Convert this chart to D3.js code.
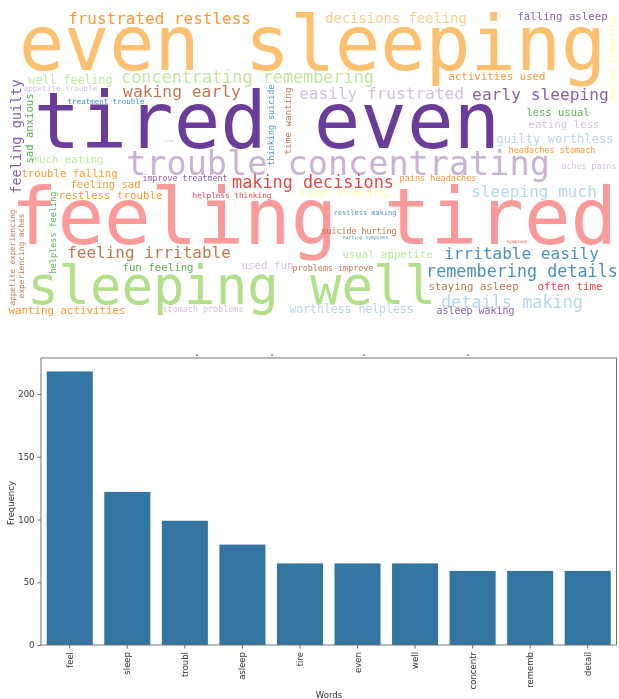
<!DOCTYPE html>
<html><head><meta charset="utf-8">
<script src="https://cdnjs.cloudflare.com/ajax/libs/d3/7.8.5/d3.min.js"></script>
<style>html,body{margin:0;padding:0;background:#fff}svg{display:block}</style></head>
<body><svg id="c" width="619" height="699"></svg>
<script>
// Word cloud content
const cloudWords = ["even sleeping","tired even","feeling tired","sleeping well","trouble concentrating","frustrated restless","decisions feeling","falling asleep","concentrating remembering","well feeling","waking early","easily frustrated","early sleeping","activities used","less usual","eating less","guilty worthless","headaches stomach","aches pains","feeling guilty","sad anxious","appetite trouble","treatment trouble","thinking suicide","time wanting","much eating","trouble falling","feeling sad","restless trouble","improve treatment","helpless thinking","making decisions","pains headaches","sleeping much","restless making","suicide hurting","hurting symptoms","symptoms","feeling irritable","irritable easily","usual appetite","fun feeling","used fun","problems improve","remembering details","staying asleep","often time","details making","worthless helpless","asleep waking","stomach problems","wanting activities","helpless feeling","experiencing aches","appetite experiencing","moving fidgeting","time staying","sleep"];
const cloudSizes = [74,76,76.4,51.5,33.2,15.8,13.7,10.6,16.7,11.5,16,15.9,16,10.6,10.3,10.6,12,8.4,8.1,13.4,10.4,7.6,7.4,8.3,9.1,10.6,10.5,10.4,10.7,8.2,7.6,16.6,8.4,15.8,6.9,8.2,4.6,4.2,15.8,15.9,10.6,10.5,10.6,8.3,16.6,10.6,10.6,16.6,11.35,9.85,8.3,10.7,8.4,7.75,7.5,8.6,10,3];
const cloudColors = ["#fdbf6f","#6a3d9a","#fb9a99","#b2df8a","#cab2d6","#ff7f00","#fdbf6f","#6a3d9a","#b2df8a","#b2df8a","#b15928","#cab2d6","#6a3d9a","#ff7f00","#33a02c","#cab2d6","#a6cee3","#ff7f00","#cab2d6","#6a3d9a","#33a02c","#cab2d6","#1f78b4","#1f78b4","#b15928","#b2df8a","#ff7f00","#ff7f00","#ff7f00","#6a3d9a","#e31a1c","#e31a1c","#ff7f00","#a6cee3","#1f78b4","#b15928","#1f78b4","#e31a1c","#b15928","#1f78b4","#b2df8a","#33a02c","#cab2d6","#b15928","#1f78b4","#b15928","#e31a1c","#a6cee3","#a6cee3","#6a3d9a","#cab2d6","#ff7f00","#33a02c","#b15928","#b15928","#ffff99","#ffff99","#a6cee3"];

// Cloud placement, separate from the content: start, end, baseline, rotated flag
const cloudPlacement = [
 [23,602,70,0],[38,496,148,0],[15,613,244,0],[30,433,304,0],[128,548,175,0],[69,250,24,0],[326,466,23,0],[518,607,20,0],[122,373,83,0],[29,112,84,0],[124,240,97,0],[300,463,99,0],[473,608,100,0],[449,545,80,0],[527,589,116,0],[529,599,128,0],[497,613,143,0],[509,595,153,0],[562,616,169,0],
 [80,193,21,1],[94,163,33,1],[24,97,91,0],[68,144,104,0],[85,165,274,1],[88,154,291,1],[33,103,163,0],[22,117,177,0],[71,140,188,0],[59,162,199,0],[143,227,181,0],[193,271,198,0],[233,393,188,0],[400,476,181,0],[472,596,197,0],[334,396,215,0],[322,396,234,0],[343,388,239,0],[507,527,243,0],[68,230,258,0],[445,598,259,0],[343,432,258,0],[123,193,271,0],[242,293,269,0],[293,373,271,0],[427,617,277,0],[429,518,290,0],[538,602,290,0],[442,582,308,0],[290,413,313,0],[437,514,314,0],[163,243,312,0],[9,125,314,0],
 [192,273,56,1],[214,298,24,1],[210,305,15,1],[17,100,615,1],[300,388,196,0],[165,174,142,0]
];

const barWords = ["feel","sleep","troubl","asleep","tire","even","well","concentr","rememb","detail"];
const barCounts = [218,122,99,80,65,65,65,59,59,59];
const yTicks = [0,50,100,150,200];
// Tick stubs left over from the cropped panel above the bar chart
const stubPlacement = [197,272,364,468];

const svg = d3.select("#c");
const defs = svg.append("defs");
const addBlur=(id,s)=>defs.append("filter").attr("id",id).attr("filterUnits","userSpaceOnUse").attr("x",0).attr("y",0).attr("width",619).attr("height",699).append("feGaussianBlur").attr("stdDeviation",s);
addBlur("soft",0.6); addBlur("softer",0.4);

const heightStretch = 1.03, bearing = 0.055;
const cloud = svg.append("g").attr("filter","url(#soft)")
  .style("font-family","'DejaVu Sans Mono',monospace");
const words = cloud.selectAll("text").data(cloudWords).join("text")
  .attr("text-anchor","start")
  .attr("transform",(d,i)=>{
    const [a,b,c,rot]=cloudPlacement[i], pad=cloudSizes[i]*bearing;
    return rot?`translate(${c},${b+pad}) rotate(-90)`:`translate(${a-pad},${c})`;})
  .attr("font-size",(d,i)=>cloudSizes[i]*heightStretch)
  .attr("textLength",(d,i)=>cloudPlacement[i][1]-cloudPlacement[i][0]+2*cloudSizes[i]*bearing)
  .attr("lengthAdjust","spacingAndGlyphs")
  .attr("fill",(d,i)=>cloudColors[i])
  .attr("fill-opacity",(d,i)=>cloudSizes[i]<20?0.82:1)
  .text(d=>d);
words.filter((d,i)=>cloudColors[i]==="#ffff99").lower();

// Bar chart
const L=41,R=616.5,T=358,B=645;
const x=d3.scaleBand().domain(barWords).range([L,R]).paddingInner(0.2).paddingOuter(0.1);
const y=d3.scaleLinear().domain([0,228.7]).range([B,T]);
const plot=svg.append("g").attr("filter","url(#softer)").style("font-family","'DejaVu Sans',sans-serif");
plot.selectAll("rect.bar").data(barWords).join("rect").attr("class","bar")
  .attr("x",d=>x(d)).attr("width",x.bandwidth())
  .attr("y",(d,i)=>y(barCounts[i])).attr("height",(d,i)=>B-y(barCounts[i]))
  .attr("fill","#3274a1");
const xa=plot.append("g").attr("transform",`translate(0,${B})`).call(d3.axisBottom(x).tickSize(3.5).tickSizeOuter(0));
xa.selectAll("text").attr("transform","rotate(-90)").attr("text-anchor","end").attr("x",-7).attr("y",0).attr("dy","0.35em").attr("font-size",8.5).attr("font-family","'DejaVu Sans',sans-serif").attr("fill","#333");
const ya=plot.append("g").attr("transform",`translate(${L},0)`).call(d3.axisLeft(y).tickValues(yTicks).tickSize(3.5).tickSizeOuter(0));
ya.selectAll("text").attr("font-size",8.5).attr("font-family","'DejaVu Sans',sans-serif").attr("fill","#333");
svg.selectAll(".domain").remove();
plot.selectAll(".tick line").attr("stroke","#444").attr("stroke-width",0.8);
plot.append("rect").attr("x",L).attr("y",T).attr("width",R-L).attr("height",B-T).attr("fill","none").attr("stroke","#666").attr("stroke-width",0.9);
plot.append("g").selectAll("line").data(stubPlacement).join("line")
  .attr("x1",d=>d).attr("x2",d=>d).attr("y1",354.5).attr("y2",356).attr("stroke","#222").attr("stroke-width",1);
plot.append("text").attr("transform",`translate(13.5,503) rotate(-90)`).attr("text-anchor","middle").attr("font-size",8.5).attr("fill","#333").text("Frequency");
plot.append("text").attr("x",329).attr("y",698).attr("text-anchor","middle").attr("font-size",8.5).attr("fill","#333").text("Words");
</script></body></html>
